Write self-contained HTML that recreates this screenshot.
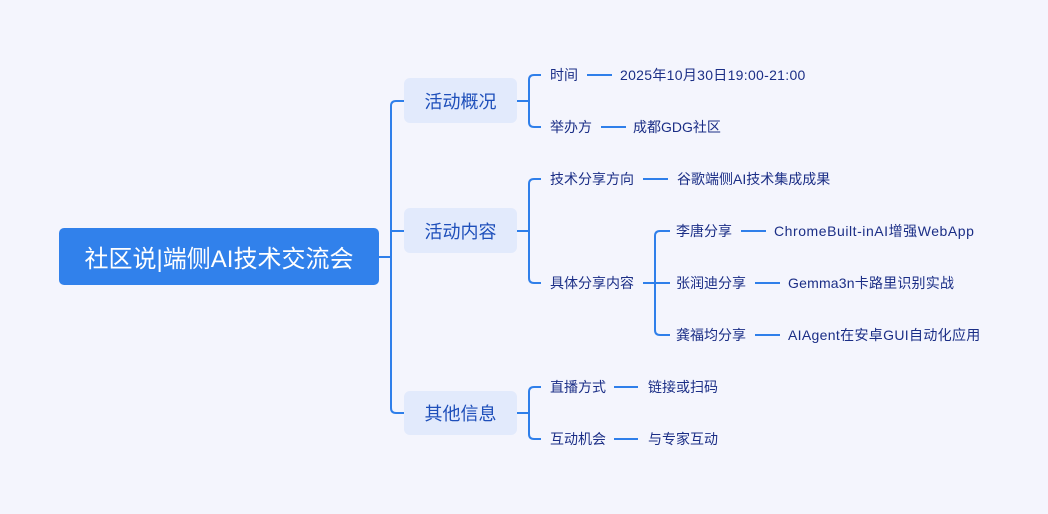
<!DOCTYPE html>
<html>
<head>
<meta charset="utf-8">
<style>
  html,body{margin:0;padding:0;}
  body{width:1048px;height:514px;background:#F4F5FD;position:relative;overflow:hidden;
    font-family:"Liberation Sans","Noto Sans CJK SC",sans-serif;}
  svg{position:absolute;left:0;top:0;}
  .t{position:absolute;white-space:nowrap;font-size:14px;line-height:20px;height:20px;color:#1B2E86;}
  .box{position:absolute;background:#E2EAFC;border-radius:6px;color:#1E4FBA;font-size:18px;
    display:flex;align-items:center;justify-content:center;}
  .root{position:absolute;left:59px;top:228px;width:320px;height:57px;background:#3181EB;border-radius:5px;
    color:#fff;font-size:24px;display:flex;align-items:center;justify-content:center;}
</style>
</head>
<body>
<svg width="1048" height="514" viewBox="0 0 1048 514">
  <g fill="none" stroke="#2F7FEA" stroke-width="2" stroke-linecap="butt">
    <path d="M379,257 H391"/>
    <path d="M404,101 H396 Q391,101 391,106 V408 Q391,413 396,413 H404"/>
    <path d="M391,231 H404"/>
    <path d="M517,101 H529"/>
    <path d="M541,75 H534 Q529,75 529,80 V122 Q529,127 534,127 H541"/>
    <path d="M517,231 H529"/>
    <path d="M541,179 H534 Q529,179 529,184 V278 Q529,283 534,283 H541"/>
    <path d="M517,413 H529"/>
    <path d="M541,387 H534 Q529,387 529,392 V434 Q529,439 534,439 H541"/>
    <path d="M643,283 H670"/>
    <path d="M670,231 H660 Q655,231 655,236 V330 Q655,335 660,335 H670"/>
    <path d="M587,75 H612"/>
    <path d="M601,127 H626"/>
    <path d="M643,179 H668"/>
    <path d="M741,231 H766"/>
    <path d="M755,283 H780"/>
    <path d="M755,335 H780"/>
    <path d="M614,387 H638"/>
    <path d="M614,439 H638"/>
  </g>
</svg>

<div class="root">社区说|端侧AI技术交流会</div>

<div class="box" style="left:404px;top:78px;width:113px;height:45px;">活动概况</div>
<div class="box" style="left:404px;top:208px;width:113px;height:45px;">活动内容</div>
<div class="box" style="left:404px;top:391px;width:113px;height:44px;">其他信息</div>

<div class="t" style="left:550px;top:65px;">时间</div>
<div class="t" style="left:620px;top:65px;letter-spacing:0.3px;">2025年10月30日19:00-21:00</div>
<div class="t" style="left:550px;top:117px;">举办方</div>
<div class="t" style="left:633px;top:117px;">成都GDG社区</div>

<div class="t" style="left:550px;top:169px;">技术分享方向</div>
<div class="t" style="left:677px;top:169px;">谷歌端侧AI技术集成成果</div>
<div class="t" style="left:550px;top:273px;">具体分享内容</div>

<div class="t" style="left:676px;top:221px;">李唐分享</div>
<div class="t" style="left:774px;top:221px;letter-spacing:0.55px;">ChromeBuilt-inAI增强WebApp</div>
<div class="t" style="left:676px;top:273px;">张润迪分享</div>
<div class="t" style="left:788px;top:273px;letter-spacing:0.2px;">Gemma3n卡路里识别实战</div>
<div class="t" style="left:676px;top:325px;">龚福均分享</div>
<div class="t" style="left:788px;top:325px;letter-spacing:0.33px;">AIAgent在安卓GUI自动化应用</div>

<div class="t" style="left:550px;top:377px;">直播方式</div>
<div class="t" style="left:648px;top:377px;">链接或扫码</div>
<div class="t" style="left:550px;top:429px;">互动机会</div>
<div class="t" style="left:648px;top:429px;">与专家互动</div>
</body>
</html>
